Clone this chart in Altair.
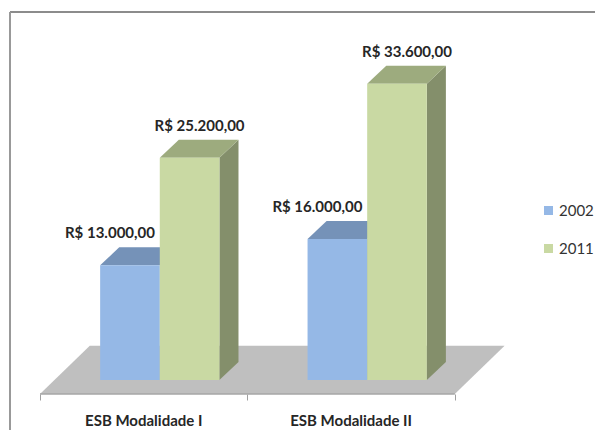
import altair as alt
import pandas as pd

categories = ["ESB Modalidade I", "ESB Modalidade II"]
series = ["2002", "2011"]
values_2002 = [13000, 16000]
values_2011 = [25200, 33600]
value_labels_2002 = ["R$ 13.000,00", "R$ 16.000,00"]
value_labels_2011 = ["R$ 25.200,00", "R$ 33.600,00"]

FRONT = {"2002": "#95B8E6", "2011": "#C9D9A3"}
TOP = {"2002": "#7592B8", "2011": "#9DAB7E"}
SIDE = {"2002": "#7592B8", "2011": "#848F6B"}
FLOOR = "#BFBFBF"

# scale geometry (data units)
BAR_W = 0.2875
BAR_START = 0.29
DX = 0.092
DY = 2040
FLOOR_FRONT = -1587
FLOOR_BACK = 3880
FLOOR_SHIFT = 0.24

fronts, tops, sides, labels = [], [], [], []
for s, vals, labs in [("2002", values_2002, value_labels_2002), ("2011", values_2011, value_labels_2011)]:
    k = series.index(s)
    for i, v in enumerate(vals):
        x0 = i + BAR_START + k * BAR_W
        x1 = x0 + BAR_W
        fid = f"{s}-{i}"
        fronts.append({"x": x0, "x2": x1, "y": 0, "y2": v, "year": s})
        tops += [
            {"id": fid, "x": x0, "y": v, "y2": v, "fill": TOP[s]},
            {"id": fid, "x": x0 + DX, "y": v, "y2": v + DY, "fill": TOP[s]},
            {"id": fid, "x": x1, "y": v, "y2": v + DY, "fill": TOP[s]},
            {"id": fid, "x": x1 + DX, "y": v + DY, "y2": v + DY, "fill": TOP[s]},
        ]
        sides += [
            {"id": fid, "x": x1, "y": 0, "y2": v, "fill": SIDE[s]},
            {"id": fid, "x": x1 + DX, "y": DY, "y2": v + DY, "fill": SIDE[s]},
        ]
        labels.append({"x": (x0 + x1) / 2, "v": v, "text": labs[i], "year": s})

floor = [
    {"id": "f", "x": 0, "y": FLOOR_FRONT, "y2": FLOOR_FRONT},
    {"id": "f", "x": FLOOR_SHIFT, "y": FLOOR_FRONT, "y2": FLOOR_BACK},
    {"id": "f", "x": 2, "y": FLOOR_FRONT, "y2": FLOOR_BACK},
    {"id": "f", "x": 2 + FLOOR_SHIFT, "y": FLOOR_BACK, "y2": FLOOR_BACK},
]

x_scale = alt.Scale(domain=[0, 2 + FLOOR_SHIFT + 0.002], nice=False, zero=False)
y_scale = alt.Scale(domain=[FLOOR_FRONT, 39683], nice=False, zero=False)
x_axis = alt.Axis(values=[0, 1, 2], labels=False, title=None, domain=False, grid=False,
                  ticks=True, tickColor="#A0A0A0", tickSize=6, tickWidth=1)
X = alt.X("x:Q", scale=x_scale, axis=x_axis)
Y = alt.Y("y:Q", scale=y_scale, axis=None)

floor_layer = alt.Chart(pd.DataFrame(floor)).mark_area(color=FLOOR, interpolate="linear").encode(
    x=X, y=Y, y2="y2:Q", detail="id:N"
)
floor_edge = alt.Chart(pd.DataFrame([{"x": 0, "x2": 2, "y": FLOOR_FRONT}])).mark_rule(
    color="#A6A6A6", strokeWidth=1.5
).encode(x=X, x2="x2:Q", y=Y)

top_layer = alt.Chart(pd.DataFrame(tops)).mark_area(interpolate="linear").encode(
    x=X, y=Y, y2="y2:Q", detail="id:N", color=alt.Color("fill:N", scale=None)
)
side_layer = alt.Chart(pd.DataFrame(sides)).mark_area(interpolate="linear").encode(
    x=X, y=Y, y2="y2:Q", detail="id:N", color=alt.Color("fill:N", scale=None)
)
front_layer = alt.Chart(pd.DataFrame(fronts)).mark_bar().encode(
    x=X,
    x2="x2:Q",
    y=Y,
    y2="y2:Q",
    color=alt.Color(
        "year:N",
        scale=alt.Scale(domain=series, range=[FRONT[s] for s in series]),
        legend=alt.Legend(
            title=None, orient="none", legendX=501, legendY=173, symbolType="square",
            symbolSize=81, symbolStrokeWidth=0, labelFont="Lato", labelFontSize=15,
            labelColor="#333333", labelOffset=3, rowPadding=22, padding=0,
        ),
    ),
)

label_df = pd.DataFrame(labels)
text_blue = alt.Chart(label_df[label_df.year == "2002"]).mark_text(
    font="Lato", fontWeight="bold", fontSize=15, color="#262626", dx=-20, dy=-32
).encode(x=X, y=alt.Y("v:Q", scale=y_scale, axis=None), text="text:N")
text_green = alt.Chart(label_df[label_df.year == "2011"]).mark_text(
    font="Lato", fontWeight="bold", fontSize=15, color="#262626", dx=10, dy=-32
).encode(x=X, y=alt.Y("v:Q", scale=y_scale, axis=None), text="text:N")

cat_df = pd.DataFrame({"x": [i + 0.5 for i in range(len(categories))], "text": categories})
cat_text = alt.Chart(cat_df).mark_text(
    font="Lato", fontWeight="bold", fontSize=15, color="#262626"
).encode(x=X, y=alt.value(391), text="text:N")

border_top = alt.Chart(pd.DataFrame({"a": [0]})).mark_rule(color="#8C8C8C", strokeWidth=2).encode(
    x=alt.value(-30), x2=alt.value(563), y=alt.value(-18)
)
border_left = alt.Chart(pd.DataFrame({"a": [0]})).mark_rule(color="#999999", strokeWidth=2).encode(
    x=alt.value(-30), y=alt.value(-18), y2=alt.value(411)
)

chart = alt.layer(
    floor_layer, floor_edge, side_layer, top_layer, front_layer,
    text_blue, text_green, cat_text, border_top, border_left,
).resolve_scale(color="independent").properties(
    width=465,
    height=364,
    padding={"left": 32, "top": 22, "right": 90, "bottom": 36},
    autosize=alt.AutoSizeParams(type="none"),
    background="white",
).configure_view(stroke=None)

chart.save("out.html", embed_options={"renderer": "svg", "actions": False})
